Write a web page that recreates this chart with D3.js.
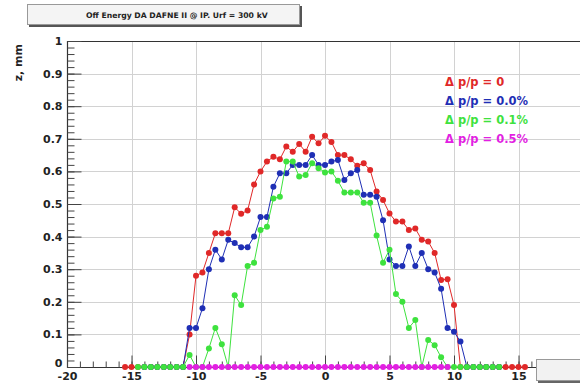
<!DOCTYPE html>
<html><head><meta charset="utf-8">
<script src="https://cdn.jsdelivr.net/npm/d3@7"></script>
<style>body{margin:0;background:#fff}svg{display:block}</style>
</head><body><svg id="c" width="580" height="385"></svg>
<script>
const titleText = "Off Energy DA DAFNE II @ IP. Urf = 300 kV";
const yTitle = "z, mm";
const xTickValues = [-20,-15,-10,-5,0,5,10,15,20];
const xTickLabels = ["-20","-15","-10","-5","0","5","10","15",""];
const yTickValues = [0,0.1,0.2,0.3,0.4,0.5,0.6,0.7,0.8,0.9,1];
const yTickLabels = ["0","0.1","0.2","0.3","0.4","0.5","0.6","0.7","0.8","0.9","1"];
const seriesNames = ["\u0394 p/p = 0","\u0394 p/p = 0.0%","\u0394 p/p = 0.1%","\u0394 p/p = 0.5%"];

const redX = [-15.5,-15,-14.5,-14,-13.5,-13,-12.5,-12,-11.5,-11,-10.5,-10,-9.5,-9,-8.5,-8,-7.5,-7,-6.5,-6,-5.5,-5,-4.5,-4,-3.5,-3,-2.5,-2,-1.5,-1,-0.5,0,0.5,1,1.5,2,2.5,3,3.5,4,4.5,5,5.5,6,6.5,7,7.5,8,8.5,9,9.5,10,10.5,11,11.5,12,12.5,13,13.5,14,14.5,15,15.5];
const redY = [0,0,0,0,0,0,0,0,0,0,0.10,0.28,0.29,0.35,0.41,0.41,0.41,0.49,0.47,0.48,0.56,0.60,0.63,0.645,0.637,0.676,0.66,0.684,0.66,0.706,0.686,0.709,0.69,0.65,0.65,0.637,0.617,0.625,0.604,0.538,0.512,0.471,0.446,0.446,0.42,0.425,0.39,0.385,0.35,0.267,0.269,0.19,0,0,0,0,0,0,0,0,0,0,0];

const blueX = [-14,-13.5,-13,-12.5,-12,-11.5,-11,-10.5,-10,-9.5,-9,-8.5,-8,-7.5,-7,-6.5,-6,-5.5,-5,-4.5,-4,-3.5,-3,-2.5,-2,-1.5,-1,-0.5,0,0.5,1,1.5,2,2.5,3,3.5,4,4.5,5,5.5,6,6.5,7,7.5,8,8.5,9,9.5,10,10.5,11,11.5,12,12.5,13,13.5];
const blueY = [0,0,0,0,0,0,0,0.12,0.12,0.18,0.30,0.36,0.33,0.39,0.38,0.367,0.367,0.40,0.46,0.46,0.553,0.594,0.594,0.62,0.62,0.62,0.65,0.62,0.62,0.63,0.635,0.574,0.594,0.604,0.528,0.528,0.522,0.45,0.33,0.31,0.31,0.37,0.31,0.35,0.30,0.29,0.24,0.12,0.108,0.078,0,0,0,0,0,0];

const greenX = [-14.5,-14,-13.5,-13,-12.5,-12,-11.5,-11,-10.5,-10,-9.5,-9,-8.5,-8,-7.5,-7,-6.5,-6,-5.5,-5,-4.5,-4,-3.5,-3,-2.5,-2,-1.5,-1,-0.5,0,0.5,1,1.5,2,2.5,3,3.5,4,4.5,5,5.5,6,6.5,7,7.5,8,8.5,9,9.5,10,10.5,11,11.5,12,12.5,13,13.5];
const greenY = [0,0,0,0,0,0,0,0,0.037,0,0,0.057,0.12,0.07,0,0.22,0.19,0.31,0.32,0.42,0.43,0.517,0.522,0.63,0.63,0.584,0.589,0.625,0.61,0.597,0.60,0.571,0.535,0.535,0.535,0.504,0.504,0.403,0.32,0.36,0.224,0.20,0.12,0.144,0,0.083,0.067,0.03,0,0,0,0,0,0,0,0,0];

const magentaX = [-10.5,-10,-9.5,-9,-8.5,-8,-7.5,-7,-6.5,-6,-5.5,-5,-4.5,-4,-3.5,-3,-2.5,-2,-1.5,-1,-0.5,0,0.5,1,1.5,2,2.5,3,3.5,4,4.5,5,5.5,6,6.5,7,7.5,8,8.5,9,9.5];
const magentaY = [0,0,0,0,0,0,0,0,0,0,0,0,0,0,0,0,0,0,0,0,0,0,0,0,0,0,0,0,0,0,0,0,0,0,0,0,0,0,0,0,0];

const colors = ["#e02828","#1f2fb5","#3ee23e","#e21fe2"];
const series = [
  {x: redX, y: redY}, {x: blueX, y: blueY}, {x: greenX, y: greenY}, {x: magentaX, y: magentaY}
];

const svg = d3.select("#c");
const W = 580, H = 385;
const x = d3.scaleLinear().domain([-20, 20]).range([67, 583]);
const y = d3.scaleLinear().domain([0, 1]).range([367, 41]);
const font = "'DejaVu Sans', sans-serif";

svg.append("rect").attr("width", W).attr("height", H).attr("fill", "#fff");

// grid
const grid = svg.append("g").attr("stroke", "#d2d2d2").attr("stroke-width", 1);
xTickValues.filter(v => v > -20 && v < 20).forEach(v => {
  grid.append("line").attr("x1", Math.round(x(v)) + 0.5).attr("x2", Math.round(x(v)) + 0.5)
    .attr("y1", y(1)).attr("y2", y(0));
});
yTickValues.filter(v => v > 0 && v < 1).forEach(v => {
  grid.append("line").attr("y1", Math.round(y(v)) + 0.5).attr("y2", Math.round(y(v)) + 0.5)
    .attr("x1", x(-20)).attr("x2", W);
});

// frame
svg.append("path")
  .attr("d", `M${W},${y(1)+0.5}H${x(-20)+0.5}V${y(0)+0.5}H${W}`)
  .attr("fill", "none").attr("stroke", "#333").attr("stroke-width", 1.2);

// axes
const yMinor = [];
for (let i = 0; i <= 50; i++) yMinor.push(i / 50);
const xMinor = [];
for (let i = -20; i <= 20; i++) xMinor.push(i);

const yAxisMinor = svg.append("g").attr("transform", `translate(${x(-20)+0.5},0)`)
  .call(d3.axisLeft(y).tickValues(yMinor).tickSize(-7).tickFormat(""));
const yAxis = svg.append("g").attr("transform", `translate(${x(-20)+0.5},0)`)
  .call(d3.axisLeft(y).tickValues(yTickValues).tickSize(-14).tickPadding(5)
    .tickFormat((d, i) => yTickLabels[i]));
const xAxisMinor = svg.append("g").attr("transform", `translate(0,${y(0)+0.5})`)
  .call(d3.axisBottom(x).tickValues(xMinor).tickSize(-6).tickFormat(""));
const xAxis = svg.append("g").attr("transform", `translate(0,${y(0)+0.5})`)
  .call(d3.axisBottom(x).tickValues(xTickValues).tickSize(-12).tickPadding(5)
    .tickFormat((d, i) => xTickLabels[i]));
[yAxisMinor, yAxis, xAxisMinor, xAxis].forEach(g => {
  g.select(".domain").remove();
  g.selectAll(".tick line").attr("stroke", "#444");
  g.selectAll("text").attr("font-family", font).attr("font-weight", "bold")
    .attr("font-size", "11px").attr("fill", "#222");
});
yAxis.selectAll(".tick").filter(d => d === 0).select("text").attr("dy", "-0.05em");

// y title
svg.append("text").attr("transform", `translate(22,${y(1)+3}) rotate(-90)`)
  .attr("text-anchor", "end").attr("font-family", font).attr("font-weight", "bold")
  .attr("font-size", "11px").attr("fill", "#222").text(yTitle);

// series
const plot = svg.append("g");
series.forEach((s, k) => {
  const pts = s.x.map((v, i) => [v, s.y[i]]);
  plot.append("path").datum(pts)
    .attr("d", d3.line().x(d => x(d[0])).y(d => y(d[1])))
    .attr("fill", "none").attr("stroke", colors[k]).attr("stroke-width", 1);
  plot.append("g").selectAll("circle").data(pts).join("circle")
    .attr("cx", d => x(d[0])).attr("cy", d => y(d[1])).attr("r", 3)
    .attr("fill", colors[k]);
});

// legend
const legY = [86, 105, 124, 143];
seriesNames.forEach((n, k) => {
  svg.append("text").attr("x", 445).attr("y", legY[k])
    .attr("font-family", font).attr("font-weight", "bold").attr("font-size", "11.5px")
    .attr("fill", colors[k]).text(n);
});

// title box
const tb = svg.append("g");
tb.append("rect").attr("x", 29).attr("y", 6).attr("width", 273).attr("height", 21).attr("fill", "#555");
tb.append("rect").attr("x", 27.5).attr("y", 4.5).attr("width", 272).attr("height", 20)
  .attr("fill", "#f4f4f4").attr("stroke", "#999");
tb.append("text").attr("x", 86).attr("y", 18).attr("text-anchor", "start")
  .attr("font-family", font).attr("font-weight", "bold").attr("font-size", "7.7px")
  .attr("fill", "#222").text(titleText);

// bottom-right box
svg.append("rect").attr("x", 538).attr("y", 361).attr("width", 50).attr("height", 22).attr("fill", "#666");
svg.append("rect").attr("x", 536.5).attr("y", 359.5).attr("width", 50).attr("height", 21)
  .attr("fill", "#f2f2f2").attr("stroke", "#999");
</script></body></html>
